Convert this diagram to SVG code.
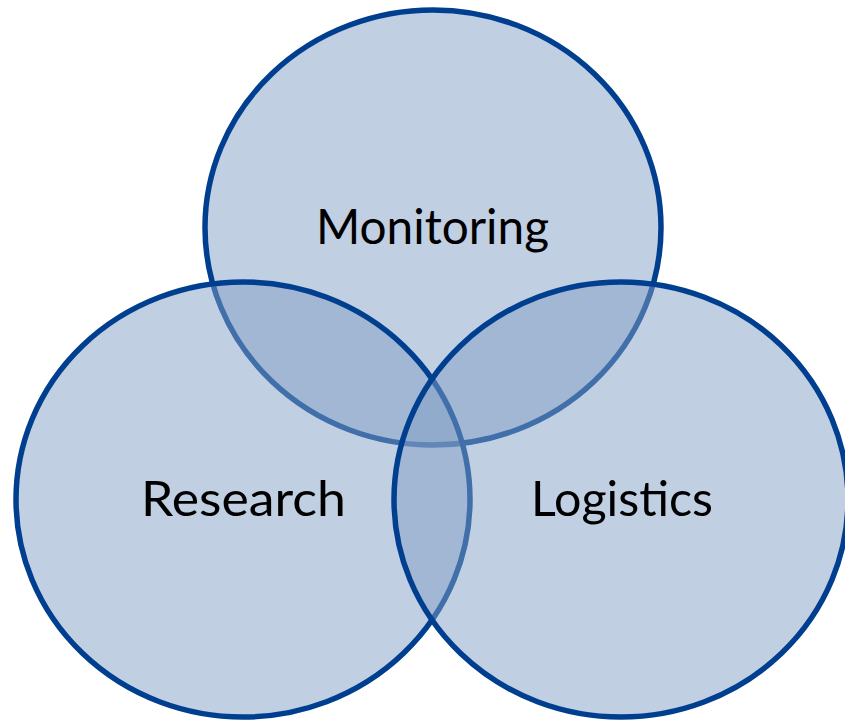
<svg xmlns="http://www.w3.org/2000/svg" width="845" height="721" viewBox="0 0 845 721">
<style>
.c{fill:rgb(129,159,197);fill-opacity:0.5;stroke:rgb(0,63,143);stroke-width:5.5}
.t{font-family:Lato,"Noto Sans",sans-serif;font-weight:400;font-size:48px;fill:#000;text-anchor:middle}
</style>
<rect width="845" height="721" fill="#fff"/>
<g id="monitoring">
<ellipse class="c" cx="433" cy="227.5" rx="228" ry="217.5"/>
<text class="t" x="432.5" y="244" textLength="233" lengthAdjust="spacingAndGlyphs">Monitoring</text>
</g>
<g id="research">
<ellipse class="c" cx="243" cy="499.5" rx="227" ry="217.5"/>
<text class="t" x="243.5" y="516" textLength="205" lengthAdjust="spacingAndGlyphs">Research</text>
</g>
<g id="logistics">
<ellipse class="c" cx="621" cy="499.5" rx="227" ry="217.5"/>
<text class="t" x="622" y="516" textLength="182" lengthAdjust="spacingAndGlyphs">Logistics</text>
</g>
<g id="connectors"/>
</svg>
